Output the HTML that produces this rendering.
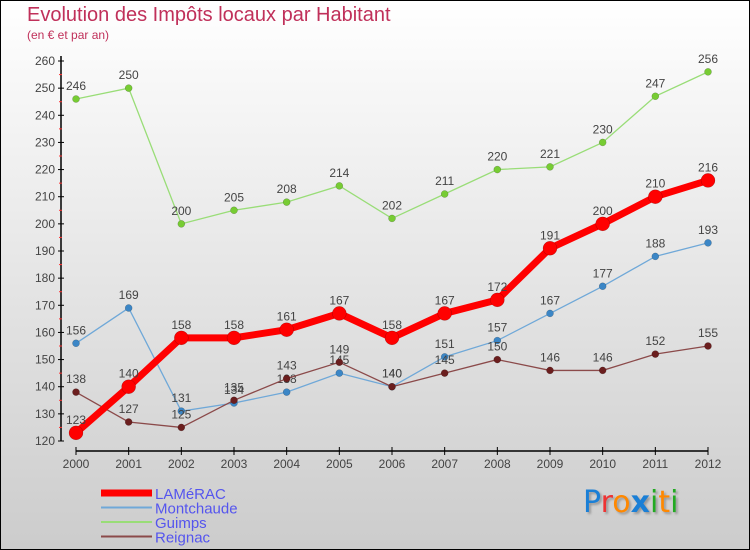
<!DOCTYPE html>
<html><head><meta charset="utf-8"><style>
body{margin:0}
#c{position:relative;width:748px;height:548px;border:1px solid #000;background:linear-gradient(#fff,#ccc);font-family:"Liberation Sans",sans-serif;overflow:hidden}
.t{position:absolute;color:#c0305a}
</style></head><body>
<div id="c">
<div class="t" style="left:26px;top:3px;font-size:20px">Evolution des Impôts locaux par Habitant</div>
<div class="t" style="left:26px;top:27px;font-size:12px">(en € et par an)</div>
<svg id="s" width="748" height="548" style="position:absolute;left:0;top:0"></svg>
<div style="position:absolute;left:582px;top:484px;font-size:30px;font-family:'DejaVu Sans',sans-serif;text-shadow:2px 2px 2px #999"><span style="color:#1a7fd6">P</span><span style="color:#e33">r</span><span style="color:#f80">o</span><span style="color:#1a7fd6;font-weight:bold">x</span><span style="color:#2a2">i</span><span style="color:#f80">t</span><span style="color:#2a2">i</span></div>
</div>
<script>
const years=[2000,2001,2002,2003,2004,2005,2006,2007,2008,2009,2010,2011,2012];
const lamerac=[123,140,158,158,161,167,158,167,172,191,200,210,216];
const montchaude=[156,169,131,134,138,145,140,151,157,167,177,188,193];
const guimps=[246,250,200,205,208,214,202,211,220,221,230,247,256];
const reignac=[138,127,125,135,143,149,140,145,150,146,146,152,155];
const yTicks=[120,130,140,150,160,170,180,190,200,210,220,230,240,250,260];
const series=[
 {name:'Guimps',data:guimps,color:'#99dd77',dot:'#77cc33',w:1.3,r:3.5},
 {name:'Montchaude',data:montchaude,color:'#6fa8d8',dot:'#3b86c6',w:1.3,r:3.5},
 {name:'Reignac',data:reignac,color:'#8b4a4a',dot:'#6b1e1e',w:1.3,r:3.5},
 {name:'LAMéRAC',data:lamerac,color:'#ff0000',dot:'#ff0000',w:7,r:7}];
const s=document.getElementById('s'),NS='http://www.w3.org/2000/svg';
const X=i=>75+i*(632/12), Y=v=>440-(v-120)*380/140;
function mk(t,a,p){const e=document.createElementNS(NS,t);for(const k in a)e.setAttribute(k,a[k]);(p||s).appendChild(e);return e;}
let ax=mk('line',{x1:60,y1:55,x2:60,y2:440,stroke:'#000','stroke-width':1.5});

let bx=mk('line',{x1:75,y1:450,x2:707,y2:450,stroke:'#000','stroke-width':1.5});

yTicks.forEach(v=>{mk('line',{x1:57,y1:Y(v),x2:63,y2:Y(v),stroke:'#000'});
 if(v<260)mk('line',{x1:58,y1:Y(v+5),x2:61,y2:Y(v+5),stroke:'#f33'});
 const t=mk('text',{x:54,y:Y(v)+4,'text-anchor':'end','font-size':12,fill:'#444'});t.textContent=v;
 });
years.forEach((y,i)=>{mk('line',{x1:X(i),y1:446,x2:X(i),y2:454,stroke:'#000'});
 const t=mk('text',{x:X(i),y:467,'text-anchor':'middle','font-size':12,fill:'#444'});t.textContent=y;
 });
series.forEach(se=>{
 const g=mk('g',{});
 mk('polyline',{points:se.data.map((v,i)=>X(i)+','+Y(v)).join(' '),fill:'none',stroke:se.color,'stroke-width':se.w},g);
 se.data.forEach((v,i)=>{const c=mk('circle',{cx:X(i),cy:Y(v),r:se.r,fill:se.dot,stroke:'rgba(0,0,0,0.3)','stroke-width':0.5},g);
  
  const t=mk('text',{x:X(i),y:Y(v)-9,'text-anchor':'middle','font-size':12,fill:'#444'},g);t.textContent=v;
  });
});
const leg=[['LAMéRAC','#ff0000',7],['Montchaude','#6fa8d8',2],['Guimps','#99dd77',2],['Reignac','#8b4a4a',2]];
leg.forEach((l,i)=>{const y=492+i*14.5;
 const g=mk('g',{});
 mk('line',{x1:100,y1:y,x2:151,y2:y,stroke:l[1],'stroke-width':l[2]},g);
 const t=mk('text',{x:154,y:y+6,'font-size':15,fill:'#5555ee'},g);t.textContent=l[0];});
</script>
</body></html>
